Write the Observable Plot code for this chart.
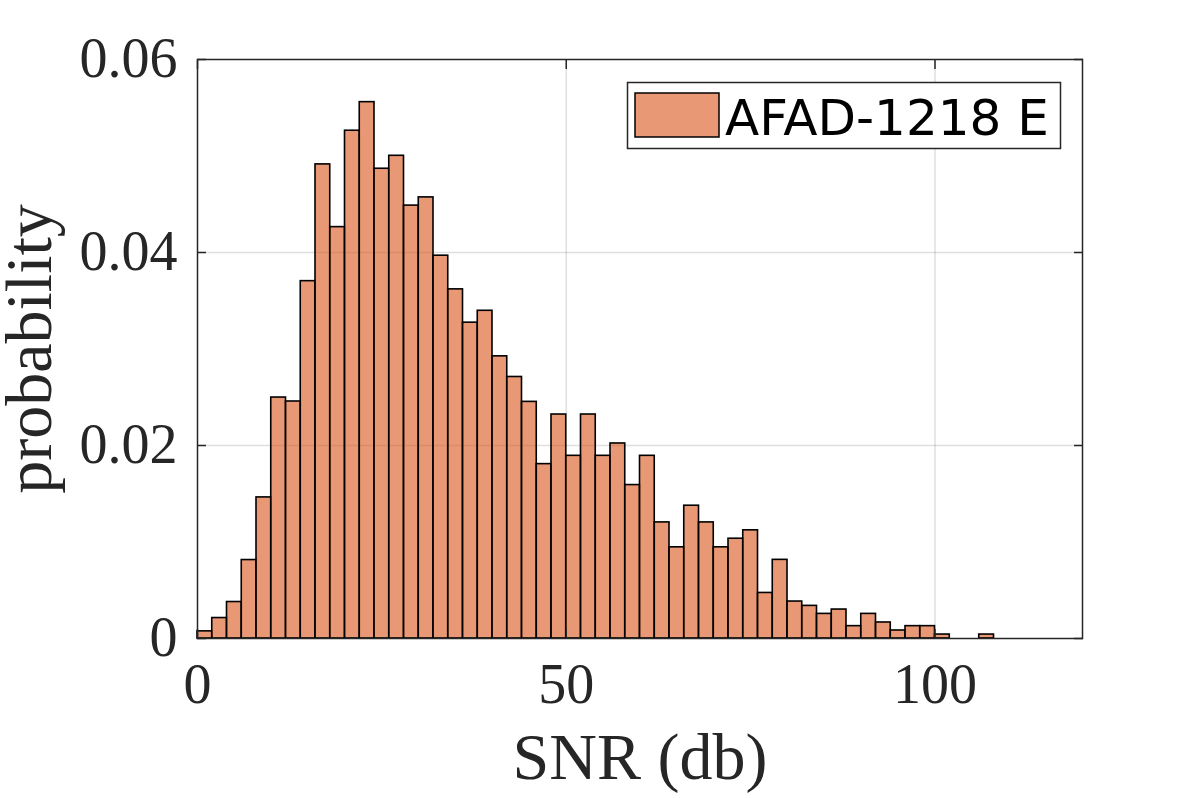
<!DOCTYPE html>
<html><head><meta charset="utf-8">
<script src="https://cdn.jsdelivr.net/npm/d3@7"></script>
<script src="https://cdn.jsdelivr.net/npm/@observablehq/plot@0.6"></script>
<style>html,body{margin:0;padding:0;background:#fff}</style>
</head><body><div id="chart"></div>
<script>
// Histogram of SNR (db), bin width 2, starting at 0
const binWidth = 2;
const probability = [
  0.00074, 0.00212, 0.00378, 0.00813, 0.01462, 0.02497, 0.02456, 0.03703, 0.04913, 0.04263,
  0.05262, 0.05558, 0.04868, 0.05002, 0.04486, 0.04571, 0.03967, 0.03618, 0.03273, 0.03396,
  0.02924, 0.02710, 0.02452, 0.01807, 0.02321, 0.01893, 0.02321, 0.01893, 0.02021, 0.01590,
  0.01893, 0.01203, 0.00945, 0.01376, 0.01203, 0.00945, 0.01034, 0.01121, 0.00472, 0.00815,
  0.00383, 0.00338, 0.00255, 0.00300, 0.00128, 0.00255, 0.00166, 0.00083, 0.00128, 0.00128,
  0.00041, 0, 0, 0.00041
];
const xTicks = [0, 50, 100];
const xTickLabels = ["0", "50", "100"];
const yTicks = [0, 0.02, 0.04, 0.06];
const yTickLabels = ["0", "0.02", "0.04", "0.06"];
const xLabel = "SNR (db)";
const yLabel = "probability";
const legendLabel = "AFAD-1218 E";

const bins = probability.map((p, i) => ({x1: i * binWidth, x2: (i + 1) * binWidth, p}));
const ink = "#262626";
const barColor = "#D95319";
const serif = "'Liberation Serif', 'Times New Roman', serif";

const plot = Plot.plot({
  width: 1196, height: 798,
  marginLeft: 197, marginRight: 114, marginTop: 59, marginBottom: 160,
  style: {background: "#fff", fontFamily: serif, color: ink},
  x: {domain: [0, 120]},
  y: {domain: [0, 0.06]},
  marks: [
    Plot.gridX({ticks: [50, 100], stroke: ink, strokeOpacity: 0.15, strokeWidth: 1.5}),
    Plot.gridY({ticks: [0.02, 0.04], stroke: ink, strokeOpacity: 0.15, strokeWidth: 1.5}),
    Plot.rectY(bins, {filter: d => d.p > 0, x1: "x1", x2: "x2", y: "p", fill: barColor, fillOpacity: 0.6, stroke: "#000", strokeWidth: 1.6}),
    Plot.axisX({ticks: xTicks, anchor: "bottom", tickSize: 0, tickPadding: 25, fontSize: 56, fill: ink, label: null, tickFormat: d => xTickLabels[xTicks.indexOf(d)]}),
    Plot.axisY({ticks: yTicks, anchor: "left", tickSize: 0, tickPadding: 20, fontSize: 56, fill: ink, label: null, tickFormat: d => yTickLabels[yTicks.indexOf(d)]}),
    Plot.axisX({ticks: xTicks, anchor: "bottom", tickSize: -9, tickFormat: () => "", label: null, stroke: ink, strokeWidth: 1.5}),
    Plot.axisX({ticks: xTicks, anchor: "top", tickSize: -9, tickFormat: () => "", label: null, stroke: ink, strokeWidth: 1.5}),
    Plot.axisY({ticks: yTicks, anchor: "left", tickSize: -9, tickFormat: () => "", label: null, stroke: ink, strokeWidth: 1.5}),
    Plot.axisY({ticks: yTicks, anchor: "right", tickSize: -9, tickFormat: () => "", label: null, stroke: ink, strokeWidth: 1.5}),
    Plot.frame({stroke: ink, strokeWidth: 1.5}),
    Plot.text([xLabel], {text: d => d, frameAnchor: "bottom", textAnchor: "middle", lineAnchor: "bottom", dy: 140, fontSize: 66, fill: ink}),
    Plot.text([yLabel], {text: d => d, frameAnchor: "left", textAnchor: "middle", lineAnchor: "bottom", rotate: -90, dx: -147, fontSize: 66, fill: ink})
  ]
});

const svg = d3.select(plot);
const lg = svg.append("g");
lg.append("rect").attr("x", 627.5).attr("y", 82.5).attr("width", 433).attr("height", 66)
  .attr("fill", "#fff").attr("stroke", ink).attr("stroke-width", 1.5);
lg.append("rect").attr("x", 635).attr("y", 93).attr("width", 84).attr("height", 44)
  .attr("fill", barColor).attr("fill-opacity", 0.6).attr("stroke", "#000").attr("stroke-width", 1.5);
lg.append("text").attr("x", 725).attr("y", 135)
  .style("font-family", "'DejaVu Sans', sans-serif").style("font-size", "50px")
  .style("text-anchor", "start").attr("fill", "#000")
  .text(legendLabel);

document.getElementById("chart").appendChild(plot);
</script>
</body></html>
